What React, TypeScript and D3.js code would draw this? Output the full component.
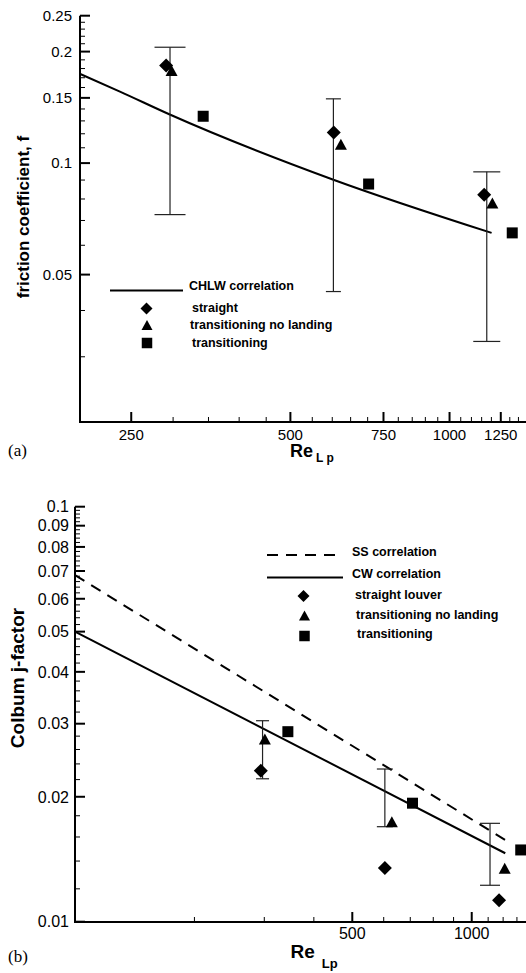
import React from "react";
import * as d3 from "d3";

// ---------- Chart (a): friction coefficient ----------
const aXTicks = [250, 500, 750, 1000, 1250];
const aYTicks = [0.05, 0.1, 0.15, 0.2, 0.25];
const aYTickLabels = ["0.05", "0.1", "0.15", "0.2", "0.25"];

const aErrX = [296, 603, 1176];
const aErrHigh = [0.2055, 0.1491, 0.0947];
const aErrLow = [0.0726, 0.045, 0.033];
const aCapW = [31, 15, 27];

const aStraightX = [291, 604, 1163];
const aStraightY = [0.1833, 0.1209, 0.0821];
const aNoLandX = [298, 623, 1205];
const aNoLandY = [0.1777, 0.1125, 0.078];
const aTransX = [342, 703, 1314];
const aTransY = [0.1338, 0.0878, 0.0648];

const chlwX = [200, 238, 295, 603, 1201];
const chlwY = [0.1741, 0.156, 0.1355, 0.0902, 0.0648];

// ---------- Chart (b): Colburn j-factor ----------
const bXTicks = [500, 1000];
const bXMinor = [200, 300, 400, 600, 700, 800, 900, 1100, 1200, 1300];
const bYTicks = [0.01, 0.02, 0.03, 0.04, 0.05, 0.06, 0.07, 0.08, 0.09, 0.1];
const bYTickLabels = ["0.01", "0.02", "0.03", "0.04", "0.05", "0.06", "0.07", "0.08", "0.09", "0.1"];

const bErrX = [297, 604, 1112];
const bErrHigh = [0.0305, 0.02333, 0.01726];
const bErrLow = [0.0221, 0.01694, 0.01224];
const bCapW = [13, 16, 20];

const bStraightX = [294, 604, 1172];
const bStraightY = [0.02312, 0.01347, 0.01126];
const bNoLandX = [301, 629, 1211];
const bNoLandY = [0.02755, 0.01742, 0.01345];
const bTransX = [344, 709, 1329];
const bTransY = [0.0287, 0.0193, 0.01489];

const cwX = [100, 1215];
const cwY = [0.05, 0.01462];
const ssX = [100, 1215];
const ssY = [0.0684, 0.01573];

const FONT = "'Liberation Sans', Arial, Helvetica, sans-serif";
const SERIF = "'Liberation Serif', 'Times New Roman', serif";

type P = [number, number];

function diamond(cx: number, cy: number, r: number) {
  return `M${cx},${cy - r}L${cx + r},${cy}L${cx},${cy + r}L${cx - r},${cy}Z`;
}
function triangle(cx: number, cy: number, w: number, h: number) {
  return `M${cx},${cy - h / 2}L${cx + w / 2},${cy + h / 2}L${cx - w / 2},${cy + h / 2}Z`;
}
function square(cx: number, cy: number, s: number) {
  return `M${cx - s / 2},${cy - s / 2}h${s}v${s}h${-s}Z`;
}

function Markers({ xs, ys, x, y, kind }: { xs: number[]; ys: number[]; x: any; y: any; kind: string }) {
  return (
    <g>
      {xs.map((v, i) => {
        const cx = x(v);
        const cy = y(ys[i]);
        const d =
          kind === "d" ? diamond(cx, cy, 7) : kind === "t" ? triangle(cx, cy, 12, 11) : square(cx, cy, 11);
        return <path key={i} d={d} fill="#000" />;
      })}
    </g>
  );
}

function ErrorBars({ xs, hi, lo, caps, x, y }: any) {
  return (
    <g stroke="#222" strokeWidth={1.2}>
      {xs.map((v: number, i: number) => {
        const cx = x(v);
        const y1 = y(hi[i]);
        const y2 = y(lo[i]);
        const c = caps[i] / 2;
        return (
          <g key={i}>
            <line x1={cx} x2={cx} y1={y1} y2={y2} />
            <line x1={cx - c} x2={cx + c} y1={y1} y2={y1} />
            <line x1={cx - c} x2={cx + c} y1={y2} y2={y2} />
          </g>
        );
      })}
    </g>
  );
}

export default function App() {
  const ax = d3.scaleLog().domain([200, 1400]).range([80, 526.8]);
  const ay = d3.scaleLog().domain([0.02, 0.25]).range([422, 15.7]);
  const aXMinor = d3.range(300, 1401, 50).filter((v) => !aXTicks.includes(v));
  const aYMinor = d3
    .range(3, 25)
    .filter((i) => i % 5 !== 0)
    .map((i) => i / 100);

  const bx = d3.scaleLog().domain([100, 1400]).range([75, 529.7]);
  const by = d3.scaleLog().domain([0.01, 0.1]).range([921.7, 506.7]);
  const bYMinor = d3
    .range(12, 100, 2)
    .filter((i) => i % 10 !== 0)
    .map((i) => i / 1000);

  const lineA = d3
    .line<P>()
    .x((d) => ax(d[0]))
    .y((d) => ay(d[1]))
    .curve(d3.curveMonotoneX);
  const lineB = d3
    .line<P>()
    .x((d) => bx(d[0]))
    .y((d) => by(d[1]));

  const chlw: P[] = chlwX.map((v, i) => [v, chlwY[i]]);
  const cw: P[] = cwX.map((v, i) => [v, cwY[i]]);
  const ss: P[] = ssX.map((v, i) => [v, ssY[i]]);

  const aAxisX = 80;
  const aAxisY = 422;
  const bAxisX = 75;
  const bAxisY = 922;

  return (
    <svg
      width={526}
      height={973}
      viewBox="0 0 526 973"
      style={{ position: "absolute", left: 0, top: 0, display: "block", background: "#fff" }}
      fontFamily={FONT}
    >
      <rect x={0} y={0} width={526} height={973} fill="#fff" />

      {/* ================= Chart (a) ================= */}
      <g>
        {aYMinor.map((v) => (
          <line key={"aym" + v} x1={aAxisX} x2={aAxisX + 5} y1={ay(v)} y2={ay(v)} stroke="#000" strokeWidth={1} />
        ))}
        {aYTicks.map((v, i) => (
          <g key={"ayt" + v}>
            <line x1={aAxisX} x2={aAxisX + 10} y1={ay(v)} y2={ay(v)} stroke="#000" strokeWidth={2} />
            <text x={aAxisX - 8} y={ay(v)} dy="0.36em" textAnchor="end" fontSize={15}>
              {aYTickLabels[i]}
            </text>
          </g>
        ))}
        {aXMinor.map((v) => (
          <line key={"axm" + v} x1={ax(v)} x2={ax(v)} y1={aAxisY} y2={aAxisY - 5} stroke="#000" strokeWidth={1} />
        ))}
        {aXTicks.map((v) => (
          <g key={"axt" + v}>
            <line x1={ax(v)} x2={ax(v)} y1={aAxisY} y2={aAxisY - 10} stroke="#000" strokeWidth={2} />
            <text x={ax(v)} y={aAxisY + 18} textAnchor="middle" fontSize={15}>
              {v}
            </text>
          </g>
        ))}
        <line x1={aAxisX} x2={aAxisX} y1={ay(0.25)} y2={aAxisY + 1} stroke="#000" strokeWidth={2} />
        <line x1={aAxisX - 1} x2={526} y1={aAxisY} y2={aAxisY} stroke="#000" strokeWidth={2} />

        <text transform={`translate(29,217) rotate(-90)`} textAnchor="middle" fontSize={17} fontWeight="bold">
          friction coefficient, f
        </text>
        <text x={290} y={457} fontSize={18} fontWeight="bold">
          Re
          <tspan fontSize={12} dx={3} dy={5}>
            L p
          </tspan>
        </text>
        <text x={8} y={456} fontSize={17} fontFamily={SERIF}>
          (a)
        </text>

        <path d={lineA(chlw) || ""} fill="none" stroke="#000" strokeWidth={2} />
        <ErrorBars xs={aErrX} hi={aErrHigh} lo={aErrLow} caps={aCapW} x={ax} y={ay} />
        <Markers xs={aStraightX} ys={aStraightY} x={ax} y={ay} kind="d" />
        <Markers xs={aNoLandX} ys={aNoLandY} x={ax} y={ay} kind="t" />
        <Markers xs={aTransX} ys={aTransY} x={ax} y={ay} kind="s" />

        <g fontSize={12.5} fontWeight="bold">
          <line x1={110} x2={183} y1={290.5} y2={290.5} stroke="#000" strokeWidth={2} />
          <text x={189} y={290}>CHLW correlation</text>
          <path d={diamond(146.5, 308.5, 6)} fill="#000" />
          <text x={192} y={312}>straight</text>
          <path d={triangle(147, 325, 11, 10)} fill="#000" />
          <text x={190} y={329}>transitioning no landing</text>
          <path d={square(147, 343, 10.5)} fill="#000" />
          <text x={192} y={346.5}>transitioning</text>
        </g>
      </g>

      {/* ================= Chart (b) ================= */}
      <g>
        {bYMinor.map((v) => (
          <line key={"bym" + v} x1={bAxisX} x2={bAxisX + 5} y1={by(v)} y2={by(v)} stroke="#000" strokeWidth={1} />
        ))}
        {bYTicks.map((v, i) => (
          <g key={"byt" + v}>
            <line x1={bAxisX} x2={bAxisX + 10} y1={by(v)} y2={by(v)} stroke="#000" strokeWidth={2} />
            <text x={bAxisX - 6} y={by(v)} dy="0.36em" textAnchor="end" fontSize={16}>
              {bYTickLabels[i]}
            </text>
          </g>
        ))}
        {bXMinor.map((v) => (
          <line key={"bxm" + v} x1={bx(v)} x2={bx(v)} y1={bAxisY} y2={bAxisY - 5} stroke="#000" strokeWidth={1} />
        ))}
        {bXTicks.map((v) => (
          <g key={"bxt" + v}>
            <line x1={bx(v)} x2={bx(v)} y1={bAxisY} y2={bAxisY - 10} stroke="#000" strokeWidth={2} />
            <text x={bx(v)} y={bAxisY + 17} textAnchor="middle" fontSize={16}>
              {v}
            </text>
          </g>
        ))}
        <line x1={bAxisX} x2={bAxisX} y1={by(0.1)} y2={bAxisY + 1} stroke="#000" strokeWidth={2} />
        <line x1={bAxisX - 1} x2={526} y1={bAxisY} y2={bAxisY} stroke="#000" strokeWidth={2} />

        <text transform={`translate(24,678) rotate(-90)`} textAnchor="middle" fontSize={19} fontWeight="bold">
          Colbum j-factor
        </text>
        <text x={290.5} y={958} fontSize={19} fontWeight="bold">
          Re
          <tspan fontSize={13} dx={7} dy={10}>
            Lp
          </tspan>
        </text>
        <text x={8} y={962} fontSize={17} fontFamily={SERIF}>
          (b)
        </text>

        <path d={lineB(ss) || ""} fill="none" stroke="#000" strokeWidth={2} strokeDasharray="11,8" />
        <path d={lineB(cw) || ""} fill="none" stroke="#000" strokeWidth={2} />
        <ErrorBars xs={bErrX} hi={bErrHigh} lo={bErrLow} caps={bCapW} x={bx} y={by} />
        <Markers xs={bStraightX} ys={bStraightY} x={bx} y={by} kind="d" />
        <Markers xs={bNoLandX} ys={bNoLandY} x={bx} y={by} kind="t" />
        <Markers xs={bTransX} ys={bTransY} x={bx} y={by} kind="s" />

        <g fontSize={12.5} fontWeight="bold">
          <line x1={267} x2={343} y1={555} y2={555} stroke="#000" strokeWidth={2} strokeDasharray="11,8" />
          <text x={352} y={556}>SS correlation</text>
          <line x1={267} x2={343} y1={577.5} y2={577.5} stroke="#000" strokeWidth={2} />
          <text x={352} y={578}>CW correlation</text>
          <path d={diamond(303.5, 596, 6)} fill="#000" />
          <text x={355} y={599}>straight louver</text>
          <path d={triangle(304.5, 615.5, 11, 10)} fill="#000" />
          <text x={356} y={619}>transitioning no landing</text>
          <path d={square(304.5, 636, 10.5)} fill="#000" />
          <text x={357} y={638}>transitioning</text>
        </g>
      </g>
    </svg>
  );
}
